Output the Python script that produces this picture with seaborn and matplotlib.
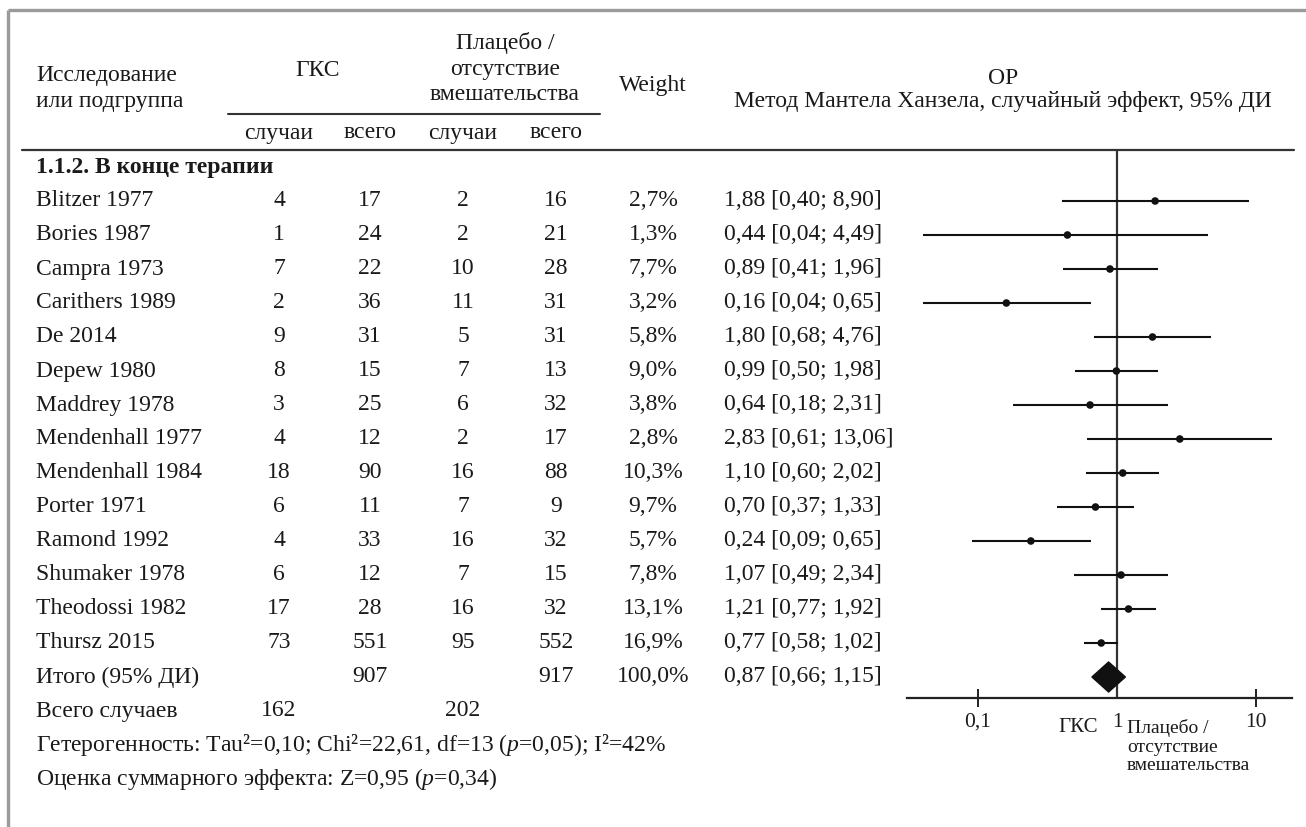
import numpy as np
import pandas as pd
import matplotlib
matplotlib.use("Agg")
import matplotlib.pyplot as plt
import seaborn as sns
from matplotlib.patches import Polygon

# ---------------- data ----------------
studies = ["Blitzer 1977", "Bories 1987", "Campra 1973", "Carithers 1989", "De 2014",
           "Depew 1980", "Maddrey 1978", "Mendenhall 1977", "Mendenhall 1984",
           "Porter 1971", "Ramond 1992", "Shumaker 1978", "Theodossi 1982", "Thursz 2015"]
gks_events = [4, 1, 7, 2, 9, 8, 3, 4, 18, 6, 4, 6, 17, 73]
gks_total = [17, 24, 22, 36, 31, 15, 25, 12, 90, 11, 33, 12, 28, 551]
pl_events = [2, 2, 10, 11, 5, 7, 6, 2, 16, 7, 16, 7, 16, 95]
pl_total = [16, 21, 28, 31, 31, 13, 32, 17, 88, 9, 32, 15, 32, 552]
weights = [2.7, 1.3, 7.7, 3.2, 5.8, 9.0, 3.8, 2.8, 10.3, 9.7, 5.7, 7.8, 13.1, 16.9]
rr = [1.88, 0.44, 0.89, 0.16, 1.80, 0.99, 0.64, 2.83, 1.10, 0.70, 0.24, 1.07, 1.21, 0.77]
rr_lo = [0.40, 0.04, 0.41, 0.04, 0.68, 0.50, 0.18, 0.61, 0.60, 0.37, 0.09, 0.49, 0.77, 0.58]
rr_hi = [8.90, 4.49, 1.96, 0.65, 4.76, 1.98, 2.31, 13.06, 2.02, 1.33, 0.65, 2.34, 1.92, 1.02]

group_title = "1.1.2. В конце терапии"
total_label = "Итого (95% ДИ)"
total_gks_n = 907
total_pl_n = 917
total_weight = 100.0
total_rr = [0.87]
total_lo = [0.66]
total_hi = [1.15]
events_label = "Всего случаев"
total_gks_events = 162
total_pl_events = 202
heterogeneity = "Гетерогенность: Tau²=0,10; Chi²=22,61, df=13 ($\\mathit{p}$=0,05); I²=42%"
overall_effect = "Оценка суммарного эффекта: Z=0,95 ($\\mathit{p}$=0,34)"

axis_ticks = [0.1, 1, 10]
axis_tick_labels = ["0,1", "1", "10"]
favours_left = "ГКС"
favours_right = ["Плацебо /", "отсутствие", "вмешательства"]

hdr_study = ["Исследование", "или подгруппа"]
hdr_gks = "ГКС"
hdr_pl = ["Плацебо /", "отсутствие", "вмешательства"]
hdr_weight = "Weight"
hdr_rr = ["ОР", "Метод Мантела Ханзела, случайный эффект, 95% ДИ"]
hdr_sub = ["случаи", "всего", "случаи", "всего"]

# ---------------- style ----------------
sns.set_theme(style="white")
plt.rcParams["font.family"] = ["Liberation Serif", "DejaVu Serif"]
plt.rcParams["mathtext.fontset"] = "custom"
plt.rcParams["mathtext.rm"] = "Liberation Serif"
plt.rcParams["mathtext.it"] = "Liberation Serif:italic"
TXT = "#1a1a1a"
FS = 17

W, H = 1306, 827
fig = plt.figure(figsize=(W / 100, H / 100), dpi=100)
fig.patch.set_facecolor("white")

bg = fig.add_axes([0, 0, 1, 1])
bg.set_xlim(0, W)
bg.set_ylim(H, 0)
bg.axis("off")

def fmt(v, d=2):
    return f"{v:.{d}f}".replace(".", ",")

def txt(x, y, s, ha="center", **kw):
    kw.setdefault("fontsize", FS)
    bg.text(x, y, s, ha=ha, va="center", color=TXT, **kw)

# frame (gray border top + left)
bg.plot([8, W], [10, 10], color="#9a9a9a", lw=2.4, solid_capstyle="butt")
bg.plot([8, 8], [10, H], color="#9a9a9a", lw=2.4, solid_capstyle="butt")

# columns
X_NAME = 36
X_GE, X_GT, X_PE, X_PT = 279, 370, 463, 556
X_W = 653
X_RR = 724

# header
for y, s in zip([76, 101], hdr_study):
    txt(X_NAME, y, s, ha="left")
txt(318, 70, hdr_gks)
for y, s in zip([43, 69, 95], hdr_pl):
    txt(505, y, s)
txt(X_W, 86, hdr_weight)
for y, s in zip([78, 101], hdr_rr):
    txt(1003, y, s)
bg.plot([228, 600], [114, 114], color="#333333", lw=1.5)
for x, s in zip([X_GE, X_GT, X_PE, X_PT], hdr_sub):
    txt(x, 133, s)
bg.plot([22, 1294], [150, 150], color="#333333", lw=1.6)

txt(X_NAME, 167, group_title, ha="left", fontweight="bold")

Y0, DY = 201, 34
rows_y = [Y0 + DY * i for i in range(len(studies))]
for i, y in enumerate(rows_y):
    txt(X_NAME, y, studies[i], ha="left")
    txt(X_GE, y, str(gks_events[i]))
    txt(X_GT, y, str(gks_total[i]))
    txt(X_PE, y, str(pl_events[i]))
    txt(X_PT, y, str(pl_total[i]))
    txt(X_W, y, fmt(weights[i], 1) + "%")
    txt(X_RR, y, f"{fmt(rr[i])} [{fmt(rr_lo[i])}; {fmt(rr_hi[i])}]", ha="left")

y_tot = Y0 + DY * len(studies)
txt(X_NAME, y_tot, total_label, ha="left")
txt(X_GT, y_tot, str(total_gks_n))
txt(X_PT, y_tot, str(total_pl_n))
txt(X_W, y_tot, fmt(total_weight, 1) + "%")
txt(X_RR, y_tot, f"{fmt(total_rr[0])} [{fmt(total_lo[0])}; {fmt(total_hi[0])}]", ha="left")

y_ev = y_tot + DY
txt(X_NAME, y_ev, events_label, ha="left")
txt(X_GE, y_ev, str(total_gks_events))
txt(X_PE, y_ev, str(total_pl_events))
txt(X_NAME, y_ev + DY, heterogeneity, ha="left")
txt(X_NAME, y_ev + 2 * DY, overall_effect, ha="left")

# ---------------- forest axes ----------------
AX_L, AX_R, AX_T, AX_B = 907, 1292, 150, 698
X1 = 1117.0
PPD = 139.0
fax = fig.add_axes([AX_L / W, 1 - AX_B / H, (AX_R - AX_L) / W, (AX_B - AX_T) / H])
fax.set_xscale("log")
fax.set_xlim(10 ** ((AX_L - X1) / PPD), 10 ** ((AX_R - X1) / PPD))
fax.set_ylim(AX_B, AX_T)
fax.patch.set_alpha(0)
for s in ["top", "left", "right"]:
    fax.spines[s].set_visible(False)
fax.spines["bottom"].set_color("#222222")
fax.spines["bottom"].set_linewidth(1.6)

df = pd.DataFrame({"study": studies, "rr": rr, "lo": rr_lo, "hi": rr_hi, "y": rows_y})
fax.hlines(df["y"], df["lo"], df["hi"], color="#111111", lw=1.5)
sns.scatterplot(data=df, x="rr", y="y", ax=fax, color="#111111", s=30,
                edgecolor="none", legend=False, zorder=3)
fax.axvline(1, color="#333333", lw=1.6, zorder=1)

d_half = 15
diamond = Polygon([[total_lo[0], y_tot], [total_rr[0], y_tot - d_half],
                   [total_hi[0], y_tot], [total_rr[0], y_tot + d_half]],
                  closed=True, facecolor="#111111", edgecolor="#111111", zorder=4)
fax.add_patch(diamond)

fax.set_xticks(axis_ticks)
fax.set_xticklabels(axis_tick_labels)
fax.xaxis.set_minor_locator(matplotlib.ticker.NullLocator())
fax.tick_params(axis="x", which="major", direction="inout", length=13, width=1.4,
                color="#222222", labelsize=15.5, labelcolor=TXT, pad=4, bottom=True)
fax.xaxis.get_major_ticks()[1].tick1line.set_visible(False)
fax.set_yticks([])
fax.set_xlabel("")
fax.set_ylabel("")

txt(1098, 727, favours_left, ha="right", fontsize=15)
for y, s in zip([728, 747, 766], favours_right):
    txt(1127, y, s, ha="left", fontsize=14)

fig.savefig("out.png", dpi=100, facecolor="white")
